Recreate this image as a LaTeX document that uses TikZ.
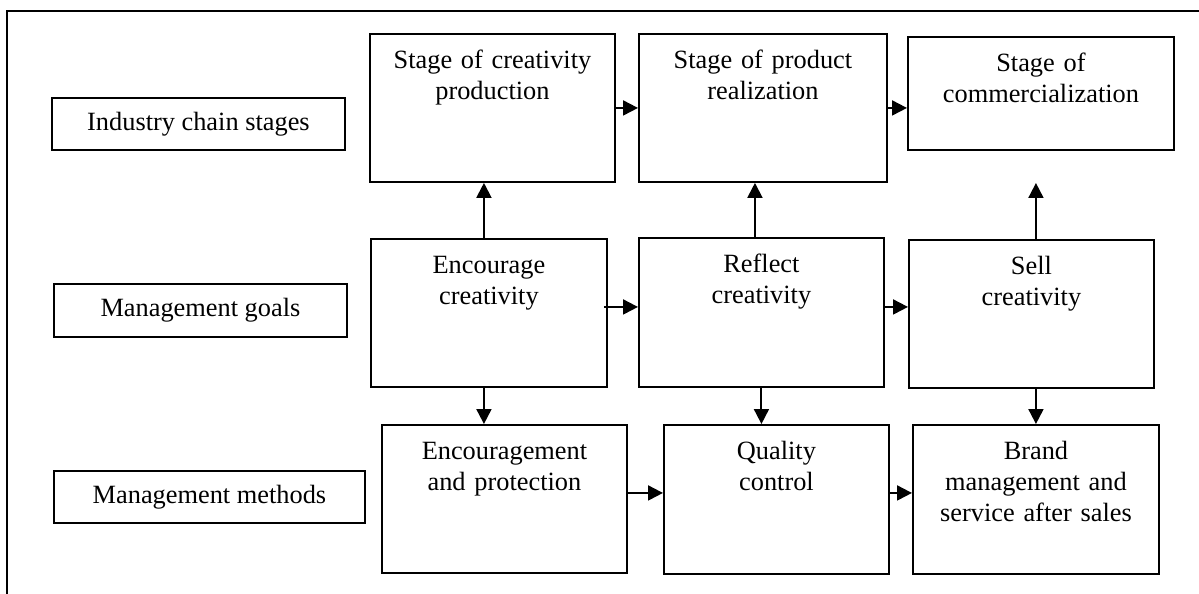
\documentclass[tikz,border=0pt]{standalone}
\usepackage{fontspec}
\setmainfont{Liberation Serif}
\usetikzlibrary{arrows.meta}

\begin{document}
\begin{tikzpicture}[x=0.02cm,y=-0.02cm,font=\fontsize{15pt}{17.6pt}\selectfont]
    \tikzset{sidebox/.style={draw,line width=1.1pt,anchor=north west,inner sep=0pt},
             stagebox/.style n args={2}{draw,line width=1.1pt,anchor=north west,inner sep=0pt,
                 align=center,text width=4.3cm,minimum width=#1,text height=0.7cm,text depth=#2},
             arr/.style={line width=1.1pt,-{Triangle[length=8.5pt,width=8.5pt]}}}
    \useasboundingbox (0,0) rectangle (1199,594);
    \draw[line width=1.1pt] (7,600) -- (7,11) -- (1205,11);

    % row headings
    \node[sidebox,minimum width=5.86cm,minimum height=1.04cm] (ics) at (51,97) {Industry chain stages};
    \node[sidebox,minimum width=5.86cm,minimum height=1.06cm] (mg) at (53,283) {Management goals};
    \node[sidebox,minimum width=6.22cm,minimum height=1.04cm] (mm) at (53,470) {Management methods};

    % stages
    \node[stagebox={4.9cm}{2.26cm}] (scp) at (369,33) {Stage of creativity\\production};
    \node[stagebox={4.96cm}{2.26cm}] (spr) at (638,33) {Stage of product\\realization};
    \node[stagebox={5.32cm}{1.56cm}] (sc) at (907,36) {Stage of\\commercialization};

    % goals
    \node[stagebox={4.72cm}{2.26cm}] (ec) at (370,238) {Encourage\\creativity};
    \node[stagebox={4.9cm}{2.28cm}] (rc) at (638,237) {Reflect\\creativity};
    \node[stagebox={4.9cm}{2.26cm}] (scr) at (908,239) {Sell\\creativity};

    % methods
    \node[stagebox={4.9cm}{2.26cm}] (ep) at (381,424) {Encouragement\\and protection};
    \node[stagebox={4.5cm}{2.28cm}] (qc) at (663,424) {Quality\\control};
    \node[stagebox={4.92cm}{2.28cm}] (bm) at (912,424) {Brand\\management and\\service after sales};

    \coordinate (ecout) at ([shift={(-0.08cm,0.12cm)}]ec.east);
    \coordinate (rcout) at ([yshift=0.11cm]rc.east);
    \coordinate (epout) at ([yshift=0.12cm]ep.east);
    \coordinate (sctip) at ([xshift=0.09cm,yshift=1.12cm]scr.north);

    \draw[arr] (scp.east) -- (spr.west);
    \draw[arr] (spr.east) -- (spr.east -| sc.west);
    \draw[arr] ([xshift=-0.1cm]ec.north) -- ([xshift=-0.1cm]ec.north |- scp.south);
    \draw[arr] ([xshift=-0.1cm]ec.south) -- ([xshift=-0.1cm]ec.south |- ep.north);
    \draw[arr] (ecout) -- (ecout -| rc.west);
    \draw[arr] ([xshift=-0.13cm]rc.north) -- ([xshift=-0.13cm]rc.north |- spr.south);
    \draw[arr] (rc.south) -- (rc.south |- qc.north);
    \draw[arr] (rcout) -- (rcout -| scr.west);
    \draw[arr] ([xshift=0.09cm]scr.north) -- (sctip);
    \draw[arr] ([xshift=0.09cm]scr.south) -- ([xshift=0.09cm]scr.south |- bm.north);
    \draw[arr] (epout) -- (epout -| qc.west);
    \draw[arr] (epout -| qc.east) -- (epout -| bm.west);
\end{tikzpicture}
\end{document}
